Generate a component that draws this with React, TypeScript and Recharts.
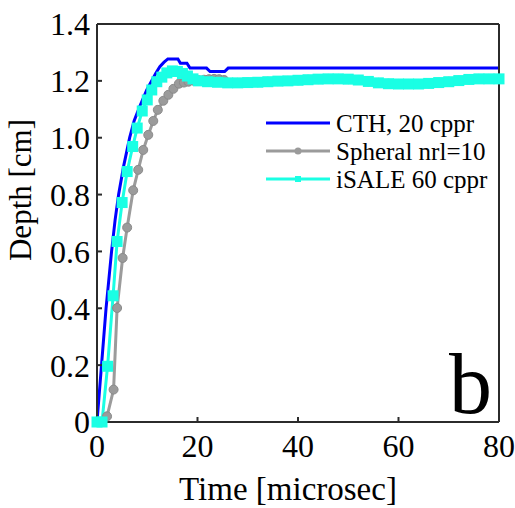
import { LineChart, Line, XAxis, YAxis, Legend } from "recharts";

// CTH, 20 cppr (no markers)
const cthTime = [0, 0.9, 1.8, 2.9, 3.6, 4.3, 5.3, 6.5, 7.4, 8.5, 9.9, 11.7, 12.5, 13.3, 14.1, 16.1, 16.6, 17.9, 18.5, 21.8, 22.5, 25.4, 26.1, 80];
const cthDepth = [0, 0.2, 0.4, 0.6, 0.71, 0.8, 0.9, 1.0, 1.06, 1.11, 1.168, 1.227, 1.25, 1.265, 1.277, 1.277, 1.262, 1.262, 1.245, 1.245, 1.233, 1.233, 1.245, 1.245];

// Spheral nrl=10 (circles)
const spheralTime = [0, 1.0, 2.0, 3.3, 4.0, 5.1, 6.0, 7.2, 8.2, 9.2, 10.2, 11.2, 12.1, 13.2, 14.2, 15.2, 16.3, 17.3, 18.2, 19.3, 20.3, 21.3, 22.3, 23.3, 24.3, 25.3, 26, 28, 30, 32, 34, 36, 38, 40, 42, 44, 46, 48, 50, 52, 54, 56, 58, 60, 62, 64, 66, 68, 70, 72, 74, 76, 78, 80];
const spheralDepth = [0, 0, 0.02, 0.114, 0.401, 0.577, 0.684, 0.815, 0.887, 0.957, 1.01, 1.059, 1.098, 1.13, 1.151, 1.172, 1.19, 1.194, 1.197, 1.2, 1.202, 1.204, 1.206, 1.207, 1.206, 1.203, 1.193, 1.193, 1.194, 1.195, 1.197, 1.199, 1.2, 1.202, 1.204, 1.206, 1.207, 1.207, 1.206, 1.203, 1.198, 1.193, 1.19, 1.189, 1.189, 1.189, 1.191, 1.194, 1.197, 1.201, 1.205, 1.207, 1.207, 1.207];

// iSALE 60 cppr (squares)
const isaleTime = [0, 1.0, 2.1, 3.2, 4.0, 5.0, 6.0, 7.1, 8.0, 9.0, 10.0, 10.9, 11.9, 12.9, 13.9, 15.0, 16.0, 17.0, 18.0, 19.1, 20.2, 22, 24, 26, 28, 30, 32, 34, 36, 38, 40, 42, 44, 46, 48, 50, 52, 54, 56, 58, 60, 62, 64, 66, 68, 70, 72, 74, 76, 78, 80];
const isaleDepth = [0, 0, 0.196, 0.444, 0.635, 0.772, 0.881, 0.969, 1.034, 1.094, 1.133, 1.168, 1.197, 1.213, 1.228, 1.235, 1.233, 1.226, 1.217, 1.207, 1.2, 1.197, 1.195, 1.193, 1.193, 1.194, 1.195, 1.197, 1.199, 1.2, 1.202, 1.204, 1.206, 1.207, 1.207, 1.206, 1.203, 1.198, 1.193, 1.19, 1.189, 1.189, 1.189, 1.191, 1.194, 1.197, 1.201, 1.205, 1.207, 1.207, 1.207];

const xTicks = [0, 20, 40, 60, 80];
const yTicks = [0, 0.2, 0.4, 0.6, 0.8, 1.0, 1.2, 1.4];

const series = [
  { name: "CTH, 20 cppr", color: "#0000ff", marker: "none" },
  { name: "Spheral nrl=10", color: "#9b9b9b", marker: "circle" },
  { name: "iSALE 60 cppr", color: "#1affe4", marker: "square" },
];

const FONT = "'Liberation Serif', 'Times New Roman', serif";
const AXIS = "#2b2b2b";

const zip = (ts: number[], ds: number[]) => ts.map((t, i) => ({ t, d: ds[i] }));
const cthData = zip(cthTime, cthDepth);
const spheralData = zip(spheralTime, spheralDepth);
const isaleData = zip(isaleTime, isaleDepth);

const fmtY = (v: number) => (v === 0 ? "0" : v.toFixed(1));

const SquareDot = (props: any) => {
  const { cx, cy, index } = props;
  if (cx == null || cy == null) return <g key={`sq-${index}`} />;
  return <rect key={`sq-${index}`} x={cx - 5.5} y={cy - 5.5} width={11} height={11} fill={series[2].color} />;
};

function LegendBox({ payload }: any) {
  const items = payload ?? [];
  return (
    <svg width={250} height={90} style={{ display: "block" }}>
      {items.map((p: any, i: number) => {
        const y = 18 + i * 28;
        const s = series.find((x) => x.name === p.value);
        return (
          <g key={p.value}>
            <line x1={8} x2={72} y1={y} y2={y} stroke={p.color} strokeWidth={3} />
            {s?.marker === "circle" && <circle cx={40} cy={y} r={3.5} fill={p.color} />}
            {s?.marker === "square" && <rect x={37} y={y - 3} width={6} height={6} fill={p.color} />}
            <text x={78} y={y + 8.5} fontFamily={FONT} fontSize={25} fill="#000">
              {p.value}
            </text>
          </g>
        );
      })}
    </svg>
  );
}

const tickStyle = { fill: "#000", fontSize: 32, fontFamily: FONT };
const lineStyle = { stroke: AXIS, strokeWidth: 2 };

export default function App() {
  return (
    <div style={{ position: "absolute", left: 0, top: 0, background: "#fff" }}>
      <LineChart width={515} height={508} margin={{ top: 23, right: 15, bottom: 0, left: 0 }}>
        <XAxis
          dataKey="t"
          type="number"
          domain={[0, 80]}
          ticks={xTicks}
          height={86}
          tickSize={-5}
          tickMargin={17}
          tick={tickStyle}
          axisLine={lineStyle}
          tickLine={lineStyle}
        />
        <XAxis
          xAxisId="top"
          orientation="top"
          type="number"
          domain={[0, 80]}
          ticks={xTicks}
          height={1}
          tickSize={-5}
          tick={false}
          axisLine={lineStyle}
          tickLine={lineStyle}
        />
        <YAxis
          type="number"
          domain={[0, 1.4]}
          ticks={yTicks}
          width={97}
          tickSize={-5}
          tickMargin={12}
          tickFormatter={fmtY}
          tick={tickStyle}
          axisLine={lineStyle}
          tickLine={lineStyle}
        />
        <YAxis
          yAxisId="right"
          orientation="right"
          type="number"
          domain={[0, 1.4]}
          ticks={yTicks}
          width={1}
          tickSize={-5}
          tick={false}
          axisLine={lineStyle}
          tickLine={lineStyle}
        />
        <Legend
          layout="vertical"
          align="center"
          verticalAlign="middle"
          content={<LegendBox />}
          wrapperStyle={{ left: 258, top: 105, width: 250 }}
        />
        <Line
          data={cthData}
          dataKey="d"
          name={series[0].name}
          type="linear"
          stroke={series[0].color}
          strokeWidth={3}
          dot={false}
          isAnimationActive={false}
        />
        <Line
          data={spheralData}
          dataKey="d"
          name={series[1].name}
          type="linear"
          stroke={series[1].color}
          strokeWidth={3}
          dot={{ r: 4.5, fill: series[1].color, stroke: "#8a8a8a", strokeWidth: 1 }}
          isAnimationActive={false}
        />
        <Line
          data={isaleData}
          dataKey="d"
          name={series[2].name}
          type="linear"
          stroke={series[2].color}
          strokeWidth={3}
          dot={SquareDot}
          isAnimationActive={false}
        />
        <text x={288} y={500} textAnchor="middle" fontFamily={FONT} fontSize={33} fill="#000">
          Time [microsec]
        </text>
        <text
          x={31}
          y={190}
          textAnchor="middle"
          transform="rotate(-90, 31, 190)"
          fontFamily={FONT}
          fontSize={31}
          fill="#000"
        >
          Depth [cm]
        </text>
        <text x={492} y={413} textAnchor="end" fontFamily={FONT} fontSize={86} fill="#000">
          b
        </text>
      </LineChart>
    </div>
  );
}
